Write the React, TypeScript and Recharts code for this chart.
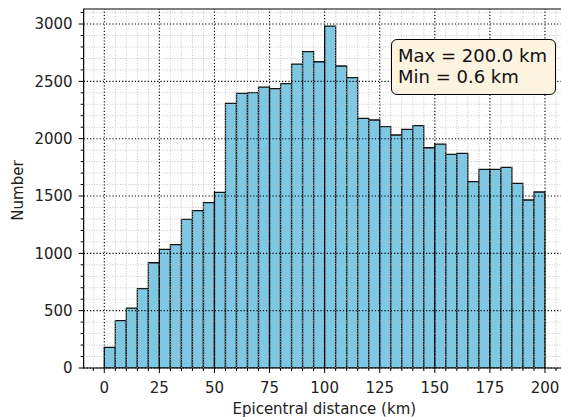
import { ComposedChart, Bar, XAxis, YAxis, ReferenceLine, ReferenceArea } from "recharts"

// histogram of epicentral distances, 5 km bins from 0 to 200 km
const binWidth = 5
const counts = [
  180, 413, 523, 692, 918, 1035, 1076, 1297, 1372, 1442,
  1532, 2308, 2395, 2401, 2450, 2436, 2480, 2651, 2759, 2671,
  2982, 2634, 2532, 2177, 2163, 2105, 2032, 2081, 2113, 1921,
  1953, 1863, 1872, 1625, 1733, 1733, 1750, 1610, 1465, 1535,
]
const binCenters = counts.map((_, i) => i * binWidth + binWidth / 2)

const xMajorTicks = [0, 25, 50, 75, 100, 125, 150, 175, 200]
const xAllTicks = Array.from({ length: 43 }, (_, i) => -5 + i * 5)
const yMajorTicks = [0, 500, 1000, 1500, 2000, 2500, 3000]
const yAllTicks = Array.from({ length: 32 }, (_, i) => i * 100)

const xMinorTicks = xAllTicks.filter((v) => !xMajorTicks.includes(v))
const yMinorTicks = yAllTicks.filter((v) => !yMajorTicks.includes(v))

const data = binCenters.map((x, i) => ({ x, count: counts[i] }))

const font = "'DejaVu Sans', sans-serif"
const xDomain = [-9.37, 209.97]
const yDomain = [0, 3131]

const XTick = ({ x, y, payload }: any) => {
  const major = payload.value % 25 === 0
  return (
    <g>
      <line x1={x} x2={x} y1={y} y2={y + (major ? 5 : 3)} stroke="#000" strokeWidth={1} />
      {major && (
        <text x={x} y={y + 25} textAnchor="middle" fontSize={15} fontFamily={font} fill="#222">
          {payload.value}
        </text>
      )}
    </g>
  )
}

const YTick = ({ x, y, payload }: any) => {
  const major = payload.value % 500 === 0
  return (
    <g>
      <line x1={x - (major ? 5 : 3)} x2={x} y1={y} y2={y} stroke="#000" strokeWidth={1} />
      {major && (
        <text x={x - 11} y={y + 5.4} textAnchor="end" fontSize={15} fontFamily={font} fill="#222">
          {payload.value}
        </text>
      )}
    </g>
  )
}

export default function App() {
  return (
    <div style={{ position: "absolute", left: 0, top: 0, width: 561, height: 417, overflow: "hidden", background: "#fff" }}>
      <ComposedChart
        width={600}
        height={417}
        data={data}
        margin={{ top: 9, right: 33.05, left: 0, bottom: 0 }}
        barCategoryGap={0}
        barGap={0}
      >
        <XAxis
          dataKey="x"
          type="number"
          domain={xDomain}
          allowDataOverflow
          ticks={xAllTicks}
          interval={0}
          tick={<XTick />}
          tickLine={false}
          tickSize={0}
          tickMargin={0}
          height={49}
          axisLine={false}
          label={(props: any) => {
            const vb = props.viewBox
            return (
              <text x={vb.x + vb.width / 2 - 1} y={vb.y + 45.5} textAnchor="middle" fontSize={15} fontFamily={font} fill="#222">
                Epicentral distance (km)
              </text>
            )
          }}
        />
        <YAxis
          type="number"
          domain={yDomain}
          allowDataOverflow
          ticks={yAllTicks}
          interval={0}
          tick={<YTick />}
          tickLine={false}
          tickSize={0}
          tickMargin={0}
          width={83.65}
          axisLine={false}
          label={(props: any) => {
            const vb = props.viewBox
            const cx = vb.x + 23
            const cy = vb.y + vb.height / 2 + 2
            return (
              <text x={cx} y={cy} transform={`rotate(-90 ${cx} ${cy})`} textAnchor="middle" fontSize={15} fontFamily={font} fill="#222">
                Number
              </text>
            )
          }}
        />
        <Bar dataKey="count" fill="#7ec8e3" stroke="#111" strokeWidth={1.3} isAnimationActive={false} />
        {xMinorTicks.map((v) => (
          <ReferenceLine key={`xm${v}`} x={v} stroke="#b8b8b8" strokeWidth={0.8} strokeDasharray="1 1.6" />
        ))}
        {yMinorTicks.map((v) => (
          <ReferenceLine key={`ym${v}`} y={v} stroke="#b8b8b8" strokeWidth={0.8} strokeDasharray="1 1.6" />
        ))}
        {xMajorTicks.map((v) => (
          <ReferenceLine key={`xM${v}`} x={v} stroke="#000" strokeWidth={1.1} strokeDasharray="1.2 2" />
        ))}
        {yMajorTicks.map((v) => (
          <ReferenceLine key={`yM${v}`} y={v} stroke="#000" strokeWidth={1.1} strokeDasharray="1.2 2" />
        ))}
        <ReferenceArea x1={xDomain[0]} x2={xDomain[1]} y1={yDomain[0]} y2={yDomain[1]} fill="none" stroke="#000" strokeWidth={1.2} />
      </ComposedChart>
      <div
        style={{
          position: "absolute",
          left: 391,
          top: 39.3,
          boxSizing: "border-box",
          width: 165,
          padding: "4.8px 6px 6.6px 6px",
          border: "1.5px solid #000",
          borderRadius: 6,
          background: "#fdf3e1",
          fontFamily: font,
          fontSize: 18,
          lineHeight: "21px",
          color: "#111",
          whiteSpace: "nowrap",
        }}
      >
        <div>Max = 200.0 km</div>
        <div>Min = 0.6 km</div>
      </div>
    </div>
  )
}
